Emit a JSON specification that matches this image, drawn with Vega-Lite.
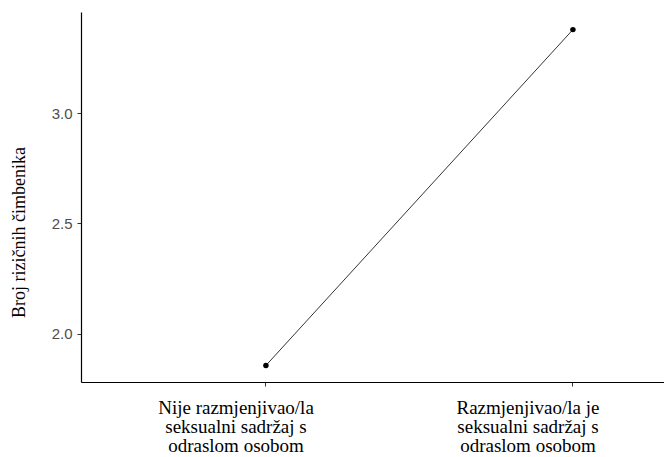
{
  "$schema": "https://vega.github.io/schema/vega-lite/v6.json",
  "width": 583,
  "height": 370,
  "autosize": {"type": "none"},
  "padding": {"left": 81, "top": 12, "right": 0, "bottom": 75},
  "background": "white",
  "config": {
    "view": {"stroke": null}
  },
  "data": {
    "values": [
      {"grupa": "Nije razmjenjivao/la|seksualni sadržaj s|odraslom osobom", "broj": 1.855},
      {"grupa": "Razmjenjivao/la  je|seksualni sadržaj s|odraslom osobom", "broj": 3.38}
    ]
  },
  "resolve": {"axis": {"x": "independent"}},
  "layer": [
    {
      "mark": {"type": "line", "color": "black", "strokeWidth": 0.8},
      "encoding": {
        "x": {
          "field": "grupa",
          "type": "ordinal",
          "sort": null,
          "bandPosition": 0.67,
          "scale": {"type": "band", "paddingInner": 0.101, "paddingOuter": 0},
          "axis": {
            "orient": "bottom",
            "title": null,
            "bandPosition": 0.67,
            "labelAngle": 0,
            "labelExpr": "split(datum.label, '|')[0]",
            "labelFont": "Liberation Serif",
            "labelFontSize": 19,
            "labelColor": "black",
            "labelBaseline": "top",
            "labelAlign": "center",
            "labelOffset": {"condition": {"test": "datum.index < 0.5", "value": 17}, "value": 2},
            "labelPadding": 12,
            "tickSize": 4,
            "tickColor": "#333333",
            "domainColor": "black",
            "domainWidth": 1.2,
            "grid": false,
            "labelLimit": 400
          }
        },
        "y": {
          "field": "broj",
          "type": "quantitative",
          "scale": {"domain": [1.78, 3.46], "nice": false, "zero": false},
          "axis": {
            "values": [2.0, 2.5, 3.0],
            "format": ".1f",
            "title": "Broj rizičnih čimbenika",
            "titleFont": "Liberation Serif",
            "titleFontSize": 18,
            "titleFontWeight": "normal",
            "titleColor": "black",
            "titleX": -62,
            "titleY": 220,
            "titleAngle": -90,
            "titleAlign": "center",
            "titleBaseline": "middle",
            "labelFont": "Liberation Sans",
            "labelFontSize": 15,
            "labelColor": "#4d4d4d",
            "labelPadding": 5,
            "tickSize": 4,
            "tickColor": "#333333",
            "domainColor": "black",
            "domainWidth": 1.2,
            "grid": false
          }
        }
      }
    },
    {
      "mark": {"type": "point", "filled": true, "color": "black", "size": 30, "opacity": 1},
      "encoding": {
        "x": {
          "field": "grupa",
          "type": "ordinal",
          "sort": null,
          "bandPosition": 0.67,
          "axis": {
            "orient": "bottom",
            "title": null,
            "bandPosition": 0.67,
            "domain": false,
            "ticks": false,
            "labelAngle": 0,
            "labelExpr": "split(datum.label, '|')[1]",
            "labelFont": "Liberation Serif",
            "labelFontSize": 19,
            "labelColor": "black",
            "labelBaseline": "top",
            "labelAlign": "center",
            "labelOffset": {"condition": {"test": "datum.index < 0.5", "value": 17}, "value": 2},
            "labelPadding": 0,
            "offset": 35,
            "grid": false,
            "labelLimit": 400
          }
        },
        "y": {"field": "broj", "type": "quantitative"}
      }
    },
    {
      "mark": {"type": "point", "filled": true, "color": "black", "size": 30, "opacity": 0},
      "encoding": {
        "x": {
          "field": "grupa",
          "type": "ordinal",
          "sort": null,
          "bandPosition": 0.67,
          "axis": {
            "orient": "bottom",
            "title": null,
            "bandPosition": 0.67,
            "domain": false,
            "ticks": false,
            "labelAngle": 0,
            "labelExpr": "split(datum.label, '|')[2]",
            "labelFont": "Liberation Serif",
            "labelFontSize": 19,
            "labelColor": "black",
            "labelBaseline": "top",
            "labelAlign": "center",
            "labelOffset": {"condition": {"test": "datum.index < 0.5", "value": 17}, "value": 2},
            "labelPadding": 0,
            "offset": 54,
            "grid": false,
            "labelLimit": 400
          }
        },
        "y": {"field": "broj", "type": "quantitative"}
      }
    }
  ]
}
